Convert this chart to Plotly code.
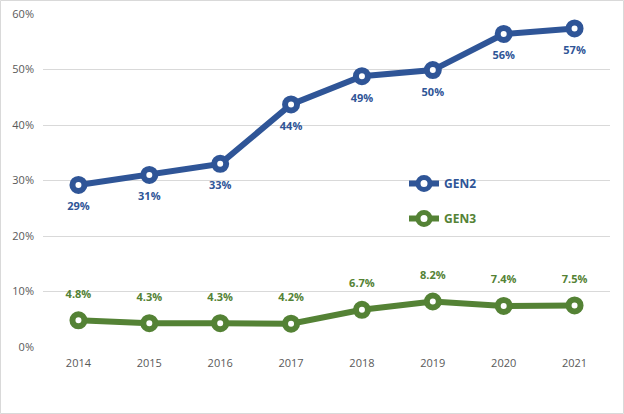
import plotly.graph_objects as go

years = ["2014", "2015", "2016", "2017", "2018", "2019", "2020", "2021"]
gen2 = [29.2, 31.0, 33.0, 43.7, 48.8, 49.9, 56.4, 57.4]
gen2_labels = ["29%", "31%", "33%", "44%", "49%", "50%", "56%", "57%"]
gen3 = [4.8, 4.3, 4.3, 4.2, 6.7, 8.2, 7.4, 7.5]
gen3_labels = ["4.8%", "4.3%", "4.3%", "4.2%", "6.7%", "8.2%", "7.4%", "7.5%"]
y_ticks = [0, 10, 20, 30, 40, 50, 60]
y_tick_labels = ["0%", "10%", "20%", "30%", "40%", "50%", "60%"]

BLUE = "#2F5597"
GREEN = "#548235"
FONT = "Open Sans"

fig = go.Figure()
for vals, labels, color, name, grp, pos, msize in [
    (gen2, gen2_labels, BLUE, "GEN2", "a", "bottom center", 26),
    (gen3, gen3_labels, GREEN, "GEN3", "b", "top center", 30),
]:
    fig.add_trace(go.Scatter(
        x=years, y=vals, mode="lines+markers",
        name=f"<span style='color:{color}'><b>{name}</b></span>",
        legendgroup=grp,
        line=dict(color=color, width=6),
        marker=dict(symbol="circle", size=12, color="white", line=dict(color=color, width=6)),
        cliponaxis=False,
    ))
    fig.add_trace(go.Scatter(
        x=years, y=vals, mode="markers+text", showlegend=False, hoverinfo="skip",
        legendgroup=grp,
        marker=dict(size=msize, opacity=0),
        text=labels, textposition=pos,
        textfont=dict(family=FONT, size=11, color=color, weight="bold"),
        cliponaxis=False,
    ))

L, R, T, B = 43, 14, 14, 67
W, H = 624, 414
pw, ph = W - L - R, H - T - B

fig.update_layout(
    width=W, height=H,
    margin=dict(l=L, r=R, t=T, b=B, autoexpand=False),
    paper_bgcolor="white", plot_bgcolor="white",
    font=dict(family=FONT, size=11, color="#595959"),
    showlegend=True,
    legend=dict(x=(404 - L) / pw, y=(H - B - 169) / ph, xanchor="left", yanchor="top",
                bgcolor="rgba(0,0,0,0)", tracegroupgap=16,
                font=dict(family=FONT, size=12)),
    xaxis=dict(type="category", range=[-0.5, len(years) - 0.5], autorange=False,
               automargin=False, ticklabelstandoff=8,
               showgrid=False, showline=False, ticks="",
               tickfont=dict(size=11, color="#595959")),
    yaxis=dict(range=[0, 60], tickvals=y_ticks, ticktext=y_tick_labels,
               automargin=False, ticklabelstandoff=8,
               showgrid=True, gridcolor="#D9D9D9", gridwidth=1, zeroline=False,
               showline=False, ticks="", tickfont=dict(size=11, color="#595959")),
    shapes=[dict(type="rect", xref="paper", yref="paper",
                 x0=(0.5 - L) / pw, x1=(W - 0.5 - L) / pw,
                 y0=(H - B - (H - 0.5)) / ph, y1=(H - B - 0.5) / ph,
                 line=dict(color="#D9D9D9", width=1), layer="below")],
)

fig.write_html("out.html", config={"displayModeBar": False},
               post_script="document.body.style.margin='0';")
